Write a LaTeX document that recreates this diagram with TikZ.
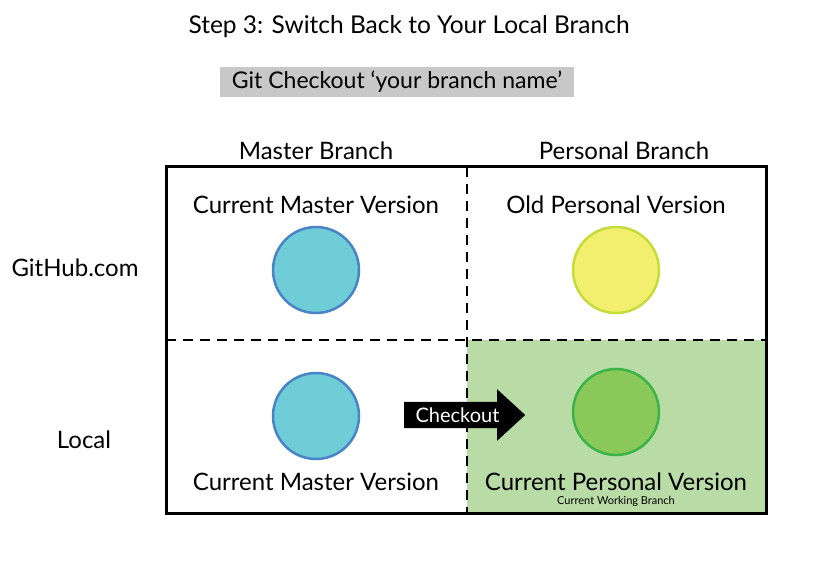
\documentclass[tikz,border=0pt]{standalone}
\usepackage{fontspec}
\setmainfont{Lato}
\usepackage{tikz}
\usetikzlibrary{positioning,shapes.arrows}

\definecolor{mastfill}{HTML}{6FCDD8}
\definecolor{mastline}{HTML}{4A84C6}
\definecolor{oldfill}{HTML}{F2EE6E}
\definecolor{oldline}{HTML}{C6DC3A}
\definecolor{curfill}{HTML}{8BC85A}
\definecolor{curline}{HTML}{3AB44A}
\definecolor{workbg}{HTML}{B9DCA6}
\definecolor{cmdbg}{HTML}{C8C8C8}

\begin{document}
\begin{tikzpicture}[x=1pt, y=-1pt, node distance=66pt, on grid,
	font=\fontsize{24}{28}\selectfont,
	version/.style={circle, minimum size=86pt, inner sep=0pt, line width=2.5pt},
	grid/.style={line width=2.8pt, dash pattern=on 10pt off 7pt}]
\useasboundingbox[fill=white] (0,0) rectangle (817,567);
\fill[workbg]	(467,340) rectangle (766,513);
\draw[grid]		(467,167) -- (467,513);
\draw[grid]		(166,340) -- (766,340);
\draw[line width=3pt]	(166,167) rectangle (766,513);
\node[font=\fontsize{24.5}{28}\selectfont]	(title)	at (409,27)	{Step 3: Switch Back to Your Local Branch};
\node[fill=cmdbg, font=\fontsize{23}{27}\selectfont, text height=17.5pt, text depth=5pt, inner ysep=3.75pt, inner xsep=11.5pt]	(cmd)	at (397,82)	{Git Checkout ‘your branch name’};
\node				(h_m)		at (316,151)	{Master Branch};
\node				(h_p)		at (624,151)	{Personal Branch};
\node				(r_g)		at (75,268)		{GitHub.com};
\node				(r_l)		at (84,440)		{Local};
\node[version, fill=mastfill, draw=mastline]	(g_m)	at (316,270)	{};
\node[version, fill=oldfill, draw=oldline]		(g_p)	at (616,270)	{};
\node[version, fill=mastfill, draw=mastline]	(l_m)	at (316,416)	{};
\node[version, fill=curfill, draw=curline]		(l_p)	at (616,412)	{};
\node				(g_m_t)		[above=65pt of g_m]		{Current Master Version};
\node				(g_p_t)		[above=65pt of g_p]		{Old Personal Version};
\node				(l_m_t)		[below=66pt of l_m]		{Current Master Version};
\node				(l_p_t)		[below=70pt of l_p]		{Current Personal Version};
\node[font=\fontsize{11}{13}\selectfont]	(l_p_s)	[below=19pt of l_p_t]	{Current Working Branch};
\node[single arrow, fill=black, text=white, anchor=west, minimum height=121pt,
	text height=14pt, text depth=0pt, inner ysep=6pt, inner xsep=0pt,
	single arrow head extend=12.5pt, single arrow tip angle=85,
	font=\fontsize{20}{24}\selectfont]	(co)	at (404,415)	{Checkout\hspace{24pt}};
\end{tikzpicture}
\end{document}
